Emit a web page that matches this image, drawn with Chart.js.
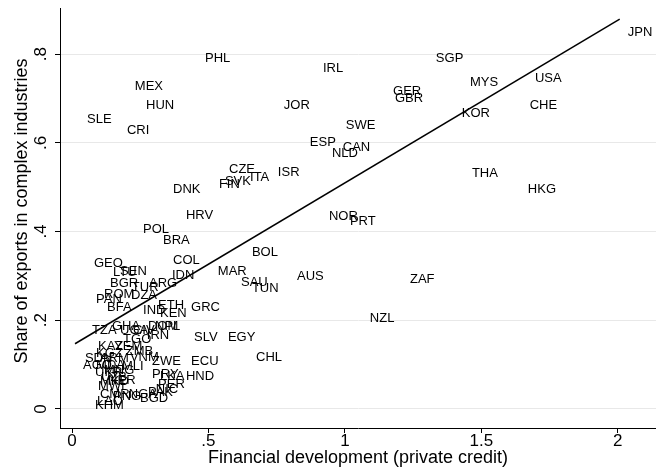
<!DOCTYPE html>
<html>
<head>
<meta charset="utf-8">
<script src="https://cdn.jsdelivr.net/npm/chart.js@4/dist/chart.umd.min.js"></script>
<style>
  html, body { margin: 0; padding: 0; background: #fff; }
</style>
</head>
<body>
<canvas id="chart" width="656" height="468"></canvas>
<script>
const codes = ['JPN','SGP','PHL','IRL','MEX','MYS','USA','GER','GBR','HUN','JOR','CHE','KOR','SLE','CRI','SWE',
  'ESP','CAN','NLD','CZE','ISR','ITA','SVK','FIN','THA','DNK','HKG','HRV','NOR','PRT','POL','BRA','BOL','GEO',
  'COL','LTU','SEN','MAR','IDN','AUS','ZAF','SAU','TUN','BGR','ARG','TUR','ROM','DZA','PAN','BFA','GRC','ETH',
  'IND','KEN','NZL','TZA','GHA','UGA','CIV','DOM','NPL','IRN','SLV','EGY','TGO','KAZ','YEM','KGZ','ZMB','SDN',
  'ARM','VNM','ZWE','ECU','CHL','AGO','MDA','MLI','UKR','MNG','PRY','LKA','HND','UZB','NER','MKD','PER','MWI',
  'PAK','NIC','CMR','PNG','NGA','BGD','LAO','KHM'];
const credit = [2.007,1.304,0.458,0.890,0.201,1.429,1.667,1.147,1.154,0.242,0.747,1.648,1.399,0.026,0.172,0.974,
  0.842,0.963,0.923,0.546,0.725,0.623,0.531,0.509,1.436,0.341,1.641,0.388,0.912,0.989,0.231,0.304,0.630,0.051,
  0.341,0.121,0.147,0.505,0.337,0.795,1.209,0.590,0.630,0.110,0.253,0.190,0.088,0.187,0.059,0.099,0.407,0.286,
  0.231,0.293,1.062,0.044,0.117,0.147,0.194,0.249,0.275,0.245,0.418,0.542,0.158,0.066,0.125,0.059,0.168,0.018,
  0.073,0.183,0.264,0.407,0.645,0.011,0.059,0.154,0.055,0.088,0.264,0.293,0.388,0.077,0.103,0.073,0.286,0.066,
  0.249,0.278,0.073,0.121,0.179,0.220,0.062,0.055];
const share = [0.850,0.791,0.791,0.767,0.728,0.737,0.746,0.715,0.699,0.685,0.685,0.685,0.667,0.652,0.627,0.640,
  0.600,0.589,0.577,0.541,0.534,0.521,0.514,0.507,0.532,0.496,0.496,0.437,0.433,0.422,0.404,0.381,0.354,0.329,
  0.334,0.307,0.309,0.311,0.300,0.298,0.293,0.286,0.271,0.284,0.284,0.273,0.259,0.257,0.246,0.230,0.228,0.234,
  0.221,0.216,0.205,0.178,0.187,0.176,0.178,0.185,0.185,0.165,0.162,0.162,0.156,0.140,0.142,0.126,0.129,0.115,
  0.113,0.117,0.108,0.108,0.117,0.097,0.099,0.095,0.083,0.086,0.077,0.074,0.074,0.072,0.065,0.061,0.056,0.050,
  0.038,0.043,0.032,0.029,0.032,0.023,0.018,0.007];
const fitX = [0.011, 2.007];
const fitY = [0.147, 0.879];
const xTicks = [0, 0.5, 1, 1.5, 2];
const yTicks = [0, 0.2, 0.4, 0.6, 0.8];
const xTitle = 'Financial development (private credit)';
const yTitle = 'Share of exports in complex industries';

const FONT = '"Liberation Sans", Arial, sans-serif';
const fmt = v => String(v).replace(/^0\./, '.');

// Stata style text: country labels right of the point, rotated y labels
const textPlugin = {
  id: 'stataText',
  afterDatasetsDraw(chart) {
    const ctx = chart.ctx;
    const xs = chart.scales.x, ys = chart.scales.y;
    const area = chart.chartArea;
    ctx.save();
    ctx.fillStyle = '#000';

    ctx.font = '13px ' + FONT;
    ctx.textAlign = 'left';
    ctx.textBaseline = 'middle';
    chart.getDatasetMeta(0).data.forEach((p, i) => ctx.fillText(codes[i], p.x + 8, p.y));

    ctx.textAlign = 'center';
    ctx.font = '17px ' + FONT;
    xTicks.forEach(v => ctx.fillText(fmt(v), xs.getPixelForValue(v), 441));
    yTicks.forEach(v => {
      ctx.save();
      ctx.translate(41, ys.getPixelForValue(v));
      ctx.rotate(-Math.PI / 2);
      ctx.fillText(fmt(v), 0, 0);
      ctx.restore();
    });

    ctx.font = '18px ' + FONT;
    ctx.fillText(xTitle, (area.left + area.right) / 2, 458);
    ctx.save();
    ctx.translate(22, 211);
    ctx.rotate(-Math.PI / 2);
    ctx.fillText(yTitle, 0, 0);
    ctx.restore();

    ctx.restore();
  }
};

new Chart(document.getElementById('chart'), {
  type: 'scatter',
  data: {
    datasets: [
      {
        data: codes.map((c, i) => ({ x: credit[i], y: share[i] })),
        pointRadius: 0,
        pointHoverRadius: 0
      },
      {
        type: 'line',
        data: fitX.map((x, i) => ({ x: x, y: fitY[i] })),
        borderColor: '#000',
        borderWidth: 1.5,
        pointRadius: 0,
        fill: false
      }
    ]
  },
  options: {
    responsive: false,
    animation: false,
    devicePixelRatio: 1,
    layout: { padding: { top: 8, right: 0, left: 0, bottom: 0 } },
    plugins: { legend: { display: false }, tooltip: { enabled: false } },
    scales: {
      x: {
        type: 'linear',
        min: -0.044,
        max: 2.14,
        afterBuildTicks: s => { s.ticks = xTicks.map(v => ({ value: v })); },
        afterFit: s => { s.height = 40; },
        ticks: { display: false },
        grid: { drawOnChartArea: false, drawTicks: true, tickLength: 5, tickColor: '#000', tickWidth: 1 },
        border: { color: '#000', width: 1 }
      },
      y: {
        type: 'linear',
        min: -0.043,
        max: 0.904,
        afterBuildTicks: s => { s.ticks = yTicks.map(v => ({ value: v })); },
        afterFit: s => { s.width = 60; },
        ticks: { display: false },
        grid: { color: '#e8e8e8', lineWidth: 1, drawTicks: true, tickLength: 5, tickColor: '#000', tickWidth: 1 },
        border: { color: '#000', width: 1 }
      }
    }
  },
  plugins: [textPlugin]
});
</script>
</body>
</html>
